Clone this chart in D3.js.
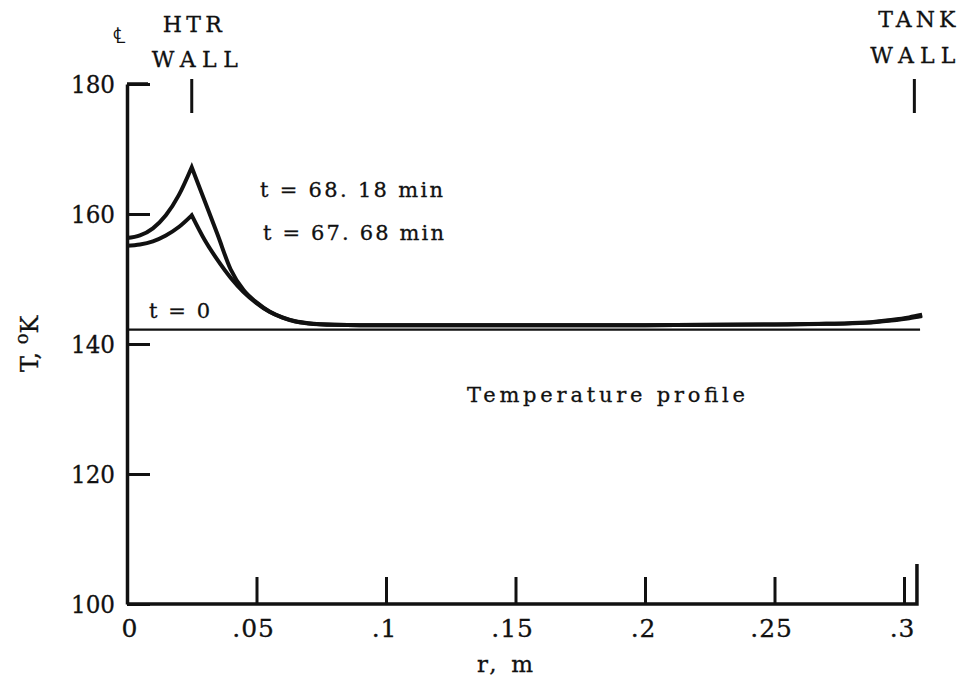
<!DOCTYPE html>
<html>
<head>
<meta charset="utf-8">
<script src="https://cdn.jsdelivr.net/npm/d3@7"></script>
<style>
  body { margin: 0; background: #fff; }
  text { font-family: "DejaVu Serif", serif; fill: #111; }
</style>
</head>
<body>
<script>
// radial positions, m
var radius = [0, 0.005, 0.010, 0.015, 0.020, 0.025, 0.030, 0.035, 0.040, 0.045, 0.050,
  0.055, 0.060, 0.065, 0.070, 0.080, 0.090, 0.100, 0.150, 0.200, 0.250, 0.270,
  0.285, 0.295, 0.302, 0.307];

// temperature, K
var temp6818 = [156.3, 156.7, 157.8, 159.8, 162.9, 167.2, 162.0, 156.8, 151.5, 148.3, 146.4,
  145.0, 144.1, 143.5, 143.2, 142.95, 142.9, 142.9, 142.9, 142.9, 143.0, 143.1,
  143.3, 143.7, 144.1, 144.5];
var temp6768 = [155.1, 155.3, 155.8, 156.7, 158.0, 159.8, 156.0, 152.9, 150.2, 148.0, 146.3,
  144.95, 144.05, 143.45, 143.15, 142.95, 142.9, 142.9, 142.9, 142.9, 143.0, 143.1,
  143.25, 143.6, 143.95, 144.3];
var tempInitial = 142.2;
var initialEnd = 0.3062;

var xTicks = [0, 0.05, 0.1, 0.15, 0.2, 0.25, 0.3];
var yTicks = [100, 120, 140, 160, 180];
var htrWall = 0.025;
var tankWall = 0.304;
var axisEnd = 0.305;

var svgWidth = 963;
var svgHeight = 684;

var margin = { top: 84, right: 59, bottom: 80, left: 127 };
var width = 777;   // r = 0 .. 0.3
var height = svgHeight - margin.top - margin.bottom;

var svg = d3.select("body")
  .append("svg")
  .attr("width", svgWidth)
  .attr("height", svgHeight);

var chartGroup = svg.append("g")
  .attr("transform", `translate(${margin.left}, ${margin.top})`);

var xScale = d3.scaleLinear().domain([0, 0.3]).range([0, width]);
var yScale = d3.scaleLinear().domain([100, 180]).range([height, 0]);

var fmtX = d => d === 0 ? "0" : d3.format(".2~f")(d).replace(/^0/, "");

// axes
var leftAxis = d3.axisLeft(yScale)
  .tickValues(yTicks)
  .tickSize(-23)
  .tickSizeOuter(0)
  .tickPadding(12)
  .tickFormat(d3.format("d"));

var bottomAxis = d3.axisBottom(xScale)
  .tickValues(xTicks)
  .tickSize(-27)
  .tickSizeOuter(0)
  .tickFormat(fmtX);

var yAxisG = chartGroup.append("g").call(leftAxis);
yAxisG.select(".domain").attr("stroke-width", 3.5).attr("stroke", "#111");
yAxisG.selectAll(".tick line").attr("stroke-width", 3).attr("stroke", "#111");
yAxisG.selectAll(".tick text")
  .attr("font-family", "DejaVu Serif")
  .attr("font-size", 25)
  .attr("fill", "#111")
  .attr("stroke", "#111")
  .attr("stroke-width", 0.3)
  .attr("textLength", 44)
  .attr("lengthAdjust", "spacingAndGlyphs");

var xAxisG = chartGroup.append("g")
  .attr("transform", `translate(0, ${height})`)
  .call(bottomAxis);
xAxisG.select(".domain").remove();
xAxisG.selectAll(".tick line").attr("stroke-width", 3).attr("stroke", "#111");
xAxisG.selectAll(".tick text")
  .attr("font-family", "DejaVu Serif")
  .attr("font-size", 25)
  .attr("fill", "#111")
  .attr("stroke", "#111")
  .attr("stroke-width", 0.3)
  .attr("text-anchor", "end")
  .attr("letter-spacing", 1)
  .attr("y", 33)
  .attr("dy", 0)
  .attr("x", d => fmtX(d).replace(".", "").length * 7 + 4);

// x axis line runs past .3 up to the tank wall, with the end upright
chartGroup.append("path")
  .attr("d", `M${xScale(0)},${height}H${xScale(axisEnd)}V${height - 40}`)
  .attr("fill", "none")
  .attr("stroke", "#111")
  .attr("stroke-width", 3.5);

// top corner of y axis
chartGroup.append("line")
  .attr("x1", 0).attr("x2", 21)
  .attr("y1", yScale(180)).attr("y2", yScale(180))
  .attr("stroke", "#111").attr("stroke-width", 3.5);

// wall markers
[htrWall, tankWall].forEach(function(w) {
  chartGroup.append("line")
    .attr("x1", xScale(w)).attr("x2", xScale(w))
    .attr("y1", -5).attr("y2", 29)
    .attr("stroke", "#111").attr("stroke-width", 3);
});

// t = 0 line
chartGroup.append("line")
  .attr("x1", xScale(0)).attr("x2", xScale(initialEnd))
  .attr("y1", yScale(tempInitial)).attr("y2", yScale(tempInitial))
  .attr("stroke", "#111").attr("stroke-width", 2.2);

// profiles: two monotone pieces joined at the heater wall peak
var line = d3.line()
  .x(d => xScale(d[0]))
  .y(d => yScale(d[1]))
  .curve(d3.curveMonotoneX);

function profilePath(temps) {
  var pts = radius.map((r, i) => [r, temps[i]]);
  var peak = d3.maxIndex(temps);
  var left = line(pts.slice(0, peak + 1));
  var right = line(pts.slice(peak)).replace(/^M[^A-Za-z]*/, "");
  return left + right;
}

[temp6768, temp6818].forEach(function(t) {
  chartGroup.append("path")
    .attr("d", profilePath(t))
    .attr("fill", "none")
    .attr("stroke", "#111")
    .attr("stroke-width", 4)
    .attr("stroke-linejoin", "miter")
    .attr("stroke-miterlimit", 12);
});

// labels
function label(txt, x, y, size, len) {
  return svg.append("text")
    .attr("x", x).attr("y", y)
    .attr("font-size", size)
    .attr("stroke", "#111")
    .attr("stroke-width", 0.3)
    .attr("textLength", len)
    .attr("lengthAdjust", "spacing")
    .text(txt);
}

label("t = 68. 18 min", 260, 197, 21, 183);
label("t = 67. 68 min", 263, 240, 21, 181);
label("t = 0", 149, 318, 21, 61);
label("Temperature profile", 467, 402, 21, 278);
label("r, m", 477, 672, 23, 56);

var htrX = margin.left + xScale(htrWall);
var tankX = margin.left + xScale(tankWall);
label("HTR", htrX - 29, 32, 22, 59);
label("WALL", htrX - 40, 67, 22, 86);
label("TANK", tankX - 36, 27, 22, 77);
label("WALL", tankX - 44, 63, 22, 85);

svg.append("text")
  .attr("x", 113).attr("y", 43)
  .attr("font-family", "DejaVu Sans")
  .attr("font-size", 22)
  .text("\u2104");

// y axis title
var yTitle = svg.append("text")
  .attr("transform", "translate(38, 372) rotate(-90)")
  .attr("font-size", 24)
  .attr("stroke", "#111")
  .attr("stroke-width", 0.3);
yTitle.append("tspan").text("T, ");
yTitle.append("tspan").attr("font-size", 18).attr("dy", -10).text("o");
yTitle.append("tspan").attr("dy", 10).text("K");
</script>
</body>
</html>
